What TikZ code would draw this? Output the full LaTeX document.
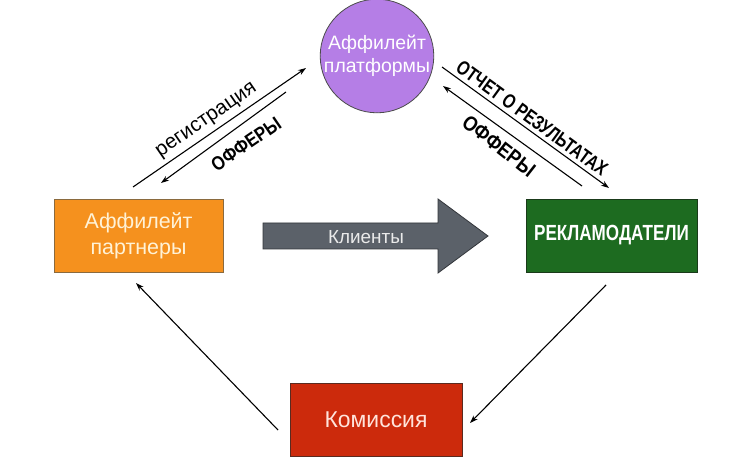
\documentclass[tikz,border=0pt]{standalone}
\usepackage{fontspec}
\setmainfont{Liberation Sans}
\newfontfamily\condfont[FakeStretch=0.78]{Liberation Sans}
\newfontfamily\semifont[FakeStretch=0.86]{Liberation Sans}
\usetikzlibrary{arrows.meta}
\definecolor{orangeC}{HTML}{F5911E}
\definecolor{orangeB}{HTML}{8A6A3E}
\definecolor{greenC}{HTML}{1D6B20}
\definecolor{greenB}{HTML}{1A3A1A}
\definecolor{redC}{HTML}{CC2A0C}
\definecolor{redB}{HTML}{5A2A20}
\definecolor{purpleC}{HTML}{B57EE6}
\definecolor{grayA}{HTML}{5B6169}
\definecolor{grayB}{HTML}{33363B}
\definecolor{orangeT}{HTML}{FFF2D6}
\definecolor{redT}{HTML}{FFE4DC}
\definecolor{grayT}{HTML}{EAEAEA}
\tikzset{
  box/.style={draw, line width=0.8bp, inner sep=0pt, align=center},
  conn/.style={line width=1.1bp, -{Stealth[length=8bp,width=5.5bp]}},
  lbl/.style={inner sep=0pt, font=\fontsize{18}{20}\selectfont},
}
\begin{document}
\begin{tikzpicture}[x=1bp,y=-1bp]
\useasboundingbox[fill=white] (0,0) rectangle (750,465);
% nodes
\node[box, draw=orangeB, fill=orangeC, text=orangeT, minimum width=169bp, minimum height=73bp,
  font=\fontsize{21.5}{26}\selectfont] (aff) at (138.5,235.5) {Аффилейт\\партнеры};
\node[box, draw=greenB, fill=greenC, text=white, minimum width=171bp, minimum height=73bp,
  font=\condfont\bfseries\fontsize{22}{25}\selectfont] (adv) at (611.5,235.5) {РЕКЛАМОДАТЕЛИ};
\node[box, draw=redB, fill=redC, text=redT, minimum width=172bp, minimum height=73bp,
  font=\fontsize{23}{26}\selectfont] (com) at (376,419.5) {Комиссия};
\node[box, circle, draw=black!70, fill=purpleC, text=white, minimum size=112bp,
  font=\fontsize{19.5}{23}\selectfont] (plat) at (377,56) {Аффилейт\\платформы};
% big arrow
\draw[fill=grayA, draw=grayB, line width=0.8bp]
  (263,223) -- (438,223) -- (438,199) -- (488,236) -- (438,273) -- (438,249) -- (263,249) -- cycle;
\node[inner sep=0pt, text=grayT, font=\fontsize{19}{20}\selectfont] (cli) at (366,237) {Клиенты};
% connector ends
\coordinate (r1) at (133,187); \coordinate (r2) at (306,68);
\coordinate (o1) at (286,92);  \coordinate (o2) at (161,183);
\coordinate (t1) at (442,67);  \coordinate (t2) at (609,188);
\coordinate (f1) at (582,186); \coordinate (f2) at (443,86);
\coordinate (g1) at (606,285); \coordinate (g2) at (470,423);
\coordinate (c1) at (278,430); \coordinate (c2) at (136,283);
\draw[conn] (r1) -- (r2);
\draw[conn] (o1) -- (o2);
\draw[conn] (t1) -- (t2);
\draw[conn] (f1) -- (f2);
\draw[conn] (g1) -- (g2);
\draw[conn] (c1) -- (c2);
% labels
\node[lbl, rotate=34.5, font=\fontsize{20.5}{22}\selectfont] (lreg) at (207,121) {регистрация};
\node[lbl, rotate=34.5, font=\semifont\bfseries\fontsize{19.5}{22}\selectfont] (loff1) at (246,144) {ОФФЕРЫ};
\node[lbl, rotate=-36, font=\condfont\bfseries\fontsize{20}{22}\selectfont] (lrep) at (532,118) {ОТЧЕТ О РЕЗУЛЬТАТАХ};
\node[lbl, rotate=-38, font=\semifont\bfseries\fontsize{21}{22}\selectfont] (loff2) at (499,146) {ОФФЕРЫ};
\end{tikzpicture}
\end{document}
